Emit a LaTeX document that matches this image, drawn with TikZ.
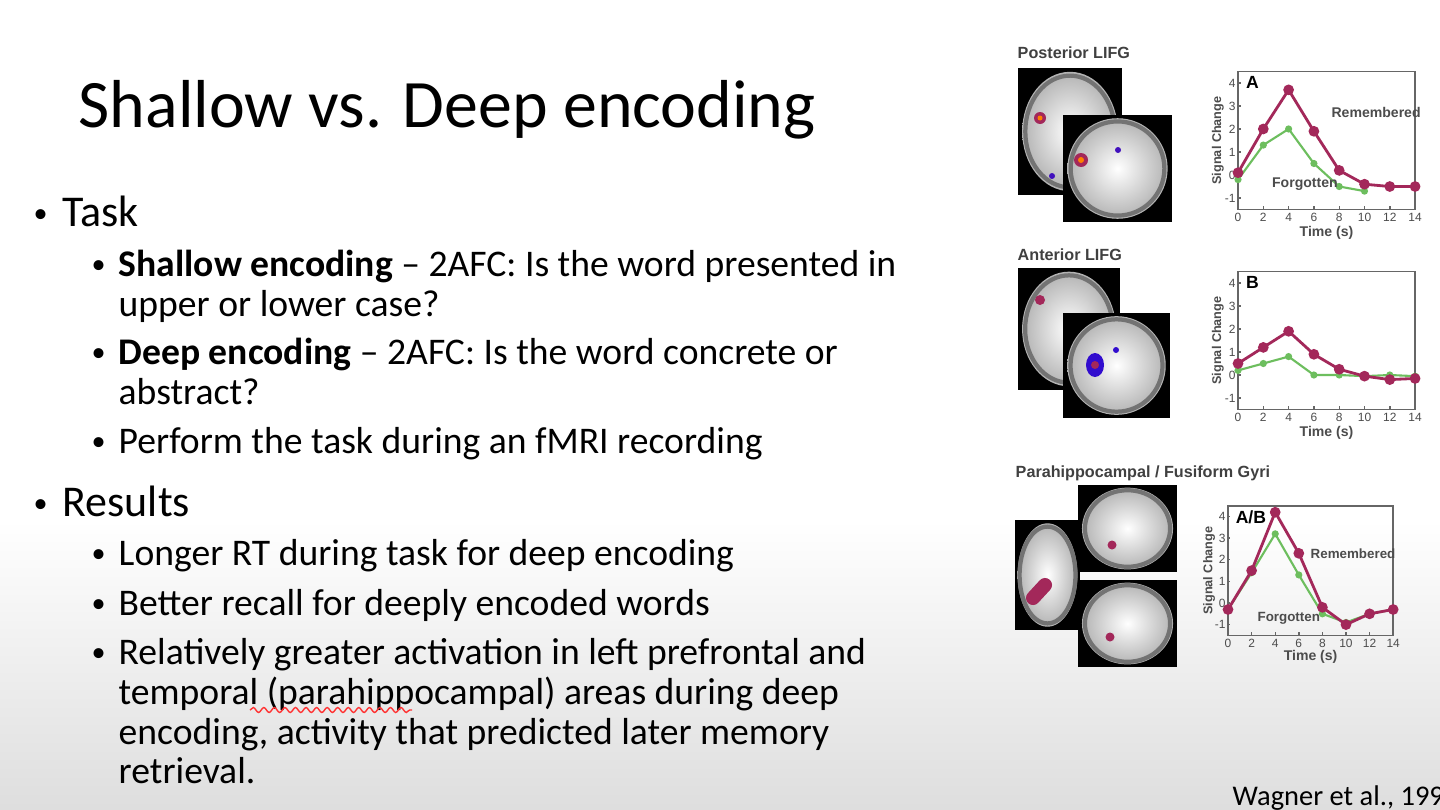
\documentclass[tikz,border=0pt]{standalone}
\usepackage{fontspec}
\setmainfont{Carlito}
\newfontfamily\figfont{Liberation Sans}
\usetikzlibrary{decorations.pathmorphing,calc}
\definecolor{rem}{HTML}{A3285A}
\definecolor{forg}{HTML}{6DBE5E}
\tikzset{
  body/.style={anchor=base west,font=\fontsize{10.7pt}{13pt}\selectfont,inner sep=0},
  lvl/.style={anchor=base west,font=\fontsize{12.5pt}{15pt}\selectfont,inner sep=0},
  dot/.style={anchor=base west,font=\fontsize{8pt}{10pt}\selectfont,inner sep=0},
  figlab/.style={anchor=base west,font=\figfont\bfseries\fontsize{4.6pt}{5pt}\selectfont,text=black!75,inner sep=0},
  tk/.style={font=\figfont\fontsize{3.4pt}{4pt}\selectfont,text=black!70,inner sep=0.5pt},
}
\newcommand{\brain}[4]{% x1 y1 x2 y2
  \fill[black] (#1,#2) rectangle (#3,#4);
  \shade[inner color=white,outer color=black!30] ($(#1,#2)!0.5!(#3,#4)$) ellipse [x radius={0.46*(#3-#1)}, y radius={0.47*(#4-#2)}];
  \draw[black!55,line width=1.2pt] ($(#1,#2)!0.5!(#3,#4)$) ellipse [x radius={0.43*(#3-#1)}, y radius={0.44*(#4-#2)}];
}
\newcommand{\chartaxes}[1]{%
  \draw[black!60,line width=0.5pt] (0,-1.5) rectangle (14,4.5);
  \foreach \t in {0,2,...,14} {\draw[black!60] (\t,-1.5) -- (\t,-1.35); \node[tk,below] at (\t,-1.55) {\t};}
  \foreach \v in {-1,0,1,2,3,4} {\draw[black!60] (0,\v) -- (0.2,\v); \node[tk,left] at (0,\v) {\v};}
  \node[tk,font=\figfont\bfseries\fontsize{4pt}{4pt}\selectfont] at (7,-2.5) {Time (s)};
  \node[tk,rotate=90,font=\figfont\bfseries\fontsize{3.6pt}{4pt}\selectfont] at (-1.6,1.5) {Signal Change};
  \node[anchor=north west,font=\figfont\bfseries\fontsize{5pt}{5pt}\selectfont,inner sep=1pt] at (0.3,4.45) {#1};
}
\tikzset{
  forgl/.style={forg,line width=0.6pt,mark=*,mark size=0.7pt,mark options={fill=forg}},
  reml/.style={rem,line width=0.8pt,mark=*,mark size=1.1pt,mark options={fill=rem}},
}
\begin{document}
\begin{tikzpicture}[x=0.01cm,y=-0.01cm]
\useasboundingbox (0,0) rectangle (1440,809);
\fill[white] (0,0) rectangle (1440,520);
\shade[top color=white,bottom color=black!13] (0,520) rectangle (1440,809);

\node[anchor=base west,inner sep=0,font=\fontsize{19.3pt}{24pt}\selectfont] (title) at (78,127) {Shallow vs. Deep encoding};

\node[dot] (d1) at (33,222) {•}; \node[lvl] (b1) at (62,226) {Task};
\node[dot] (d11) at (91,273) {•}; \node[body] (s1) at (118,276) {\textbf{Shallow encoding} – 2AFC: Is the word presented in};
\node[body] (s1b) at (118,316) {upper or lower case?};
\node[dot] (d12) at (91,361) {•}; \node[body] (s2) at (118,364) {\textbf{Deep encoding} – 2AFC: Is the word concrete or};
\node[body] (s2b) at (118,404) {abstract?};
\node[dot] (d13) at (91,450) {•}; \node[body] (s3) at (118,453) {Perform the task during an fMRI recording};
\node[dot] (d2) at (33,512) {•}; \node[lvl] (b2) at (62,516) {Results};
\node[dot] (d21) at (91,562) {•}; \node[body] (r1) at (118,565) {Longer RT during task for deep encoding};
\node[dot] (d22) at (91,612) {•}; \node[body] (r2) at (118,615) {Better recall for deeply encoded words};
\node[dot] (d23) at (91,661) {•}; \node[body] (r3) at (118,664) {Relatively greater activation in left prefrontal and};
\node[body] (r3b) at (118,704) {temporal (parahippocampal) areas during deep};
\draw[red!80,line width=0.4pt,decorate,decoration={snake,amplitude=0.7pt,segment length=3pt}] (250,710) -- (412,710);
\node[body] (r3c) at (118,744) {encoding, activity that predicted later memory};
\node[body] (r3d) at (118,783) {retrieval.};

\node[anchor=base west,inner sep=0,font=\fontsize{8.1pt}{11pt}\selectfont] (cite) at (1232,805) {Wagner et al., 199};

% figure labels
\node[figlab] (l1) at (1017,58) {Posterior LIFG};
\node[figlab] (l2) at (1017,260) {Anterior LIFG};
\node[figlab] (l3) at (1015,477) {Parahippocampal / Fusiform Gyri};

% brains
\brain{1018}{68}{1122}{195}
\brain{1063}{115}{1172}{222}
\fill[rem] (1040,118) circle (6); \fill[orange] (1040,118) circle (2.5);
\fill[rem] (1081,160) circle (7); \fill[orange] (1081,160) circle (3);
\fill[blue!60!rem] (1118,150) circle (3); \fill[blue!60!rem] (1052,176) circle (3);
\brain{1018}{268}{1120}{390}
\brain{1063}{313}{1170}{418}
\fill[rem] (1040,300) circle (5);
\fill[blue!70!rem] (1095,365) ellipse (9 and 12); \fill[rem] (1095,365) circle (4);
\fill[blue!70!rem] (1116,350) circle (3);
\brain{1015}{520}{1080}{630}
\brain{1078}{485}{1177}{572}
\brain{1078}{580}{1177}{667}
\draw[rem,line width=4pt,line cap=round] (1033,598) -- (1045,585);
\fill[rem] (1112,545) circle (4.5);
\fill[rem] (1110,637) circle (4.5);

% chart A
\begin{scope}[shift={(1238,175)},x={(0.1264cm,0)},y={(0,0.23cm)}]
\chartaxes{A}
\draw[forgl] plot coordinates {(0,-0.2)(2,1.3)(4,2)(6,0.5)(8,-0.5)(10,-0.7)};
\draw[reml] plot coordinates {(0,0.1)(2,2)(4,3.7)(6,1.9)(8,0.2)(10,-0.4)(12,-0.5)(14,-0.5)};
\node[tk,anchor=west,font=\figfont\bfseries\fontsize{4pt}{4pt}\selectfont] (remA) at (7.2,2.7) {Remembered};
\node[tk,anchor=west,font=\figfont\bfseries\fontsize{4pt}{4pt}\selectfont] (forA) at (2.5,-0.4) {Forgotten};
\end{scope}
% chart B
\begin{scope}[shift={(1238,375)},x={(0.1264cm,0)},y={(0,0.23cm)}]
\chartaxes{B}
\draw[forgl] plot coordinates {(0,0.2)(2,0.5)(4,0.8)(6,0)(8,0)(10,-0.05)(12,0)(14,-0.05)};
\draw[reml] plot coordinates {(0,0.5)(2,1.2)(4,1.9)(6,0.9)(8,0.25)(10,-0.05)(12,-0.2)(14,-0.15)};
\end{scope}
% chart C
\begin{scope}[shift={(1228,603)},x={(0.1179cm,0)},y={(0,0.216cm)}]
\chartaxes{A/B}
\draw[forgl] plot coordinates {(0,-0.3)(2,1.4)(4,3.2)(6,1.3)(8,-0.5)(10,-0.9)(12,-0.5)(14,-0.3)};
\draw[reml] plot coordinates {(0,-0.3)(2,1.5)(4,4.2)(6,2.3)(8,-0.2)(10,-1)(12,-0.5)(14,-0.3)};
\node[tk,anchor=west,font=\figfont\bfseries\fontsize{3.8pt}{4pt}\selectfont] (remC) at (6.8,2.3) {Remembered};
\node[tk,anchor=west,font=\figfont\bfseries\fontsize{3.8pt}{4pt}\selectfont] (forC) at (2.3,-0.7) {Forgotten};
\end{scope}
\end{tikzpicture}
\end{document}
